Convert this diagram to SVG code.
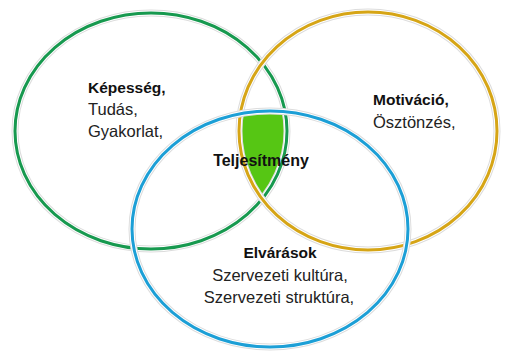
<svg xmlns="http://www.w3.org/2000/svg" width="505" height="352" viewBox="0 0 505 352">
<style>
.halo{fill:none;stroke:#dcdcdc;stroke-width:7}
.gap{fill:none;stroke:#ffffff;stroke-width:5}
.ring{fill:none;stroke-width:3}
.b{font-family:"Liberation Sans",Arial,sans-serif;font-weight:bold;font-size:15.5px;fill:#111}
.r{font-family:"Liberation Sans",Arial,sans-serif;font-size:16.5px;fill:#222}
</style>
<defs>
<clipPath id="cg"><ellipse cx="151" cy="131" rx="136" ry="118"/></clipPath>
<clipPath id="cb"><ellipse cx="270" cy="229" rx="138" ry="118"/></clipPath>
</defs>
<rect width="505" height="352" fill="#ffffff"/>
<g id="intersection" clip-path="url(#cg)">
<ellipse cx="368" cy="131" rx="129" ry="119" fill="#56c614" clip-path="url(#cb)"/>
</g>
<g id="kepesseg">
<ellipse class="halo" cx="151" cy="131" rx="136" ry="118"/>
<ellipse class="gap" cx="151" cy="131" rx="136" ry="118"/>
<ellipse class="ring" cx="151" cy="131" rx="136" ry="118" stroke="#17994f"/>
<text class="b" x="88" y="93">Képesség,</text>
<text class="r" x="88" y="115">Tudás,</text>
<text class="r" x="88" y="137">Gyakorlat,</text>
</g>
<g id="motivacio">
<ellipse class="halo" cx="368" cy="131" rx="129" ry="119"/>
<ellipse class="gap" cx="368" cy="131" rx="129" ry="119"/>
<ellipse class="ring" cx="368" cy="131" rx="129" ry="119" stroke="#d6a516"/>
<text class="b" x="373" y="105">Motiváció,</text>
<text class="r" x="373" y="128">Ösztönzés,</text>
</g>
<g id="elvarasok">
<ellipse class="halo" cx="270" cy="229" rx="138" ry="118"/>
<ellipse class="gap" cx="270" cy="229" rx="138" ry="118"/>
<ellipse class="ring" cx="270" cy="229" rx="138" ry="118" stroke="#1c9fd6"/>
<text class="b" x="280" y="258" text-anchor="middle">Elvárások</text>
<text class="r" x="280" y="281" text-anchor="middle">Szervezeti kultúra,</text>
<text class="r" x="279" y="303" text-anchor="middle">Szervezeti struktúra,</text>
</g>
<g id="teljesitmeny">
<text class="b" x="261" y="166" text-anchor="middle" style="font-size:16px">Teljesítmény</text>
</g>
</svg>
